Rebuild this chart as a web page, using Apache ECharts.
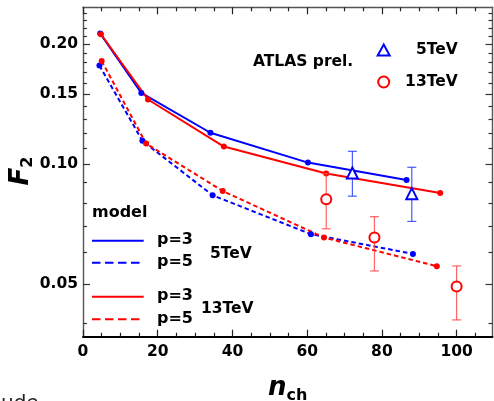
<!DOCTYPE html>
<html>
<head>
<meta charset="utf-8">
<script src="https://cdn.jsdelivr.net/npm/echarts@6/dist/echarts.min.js"></script>
<style>
  html, body { margin: 0; padding: 0; background: #fff; }
  #chart { width: 494px; height: 401px; }
</style>
</head>
<body>
<div id="chart"></div>
<script>
// Model curves: F2 versus charged multiplicity n_ch
const nch5p3  = [4.6, 15.6, 34.1, 60.2, 86.6];
const f5p3    = [0.213, 0.151, 0.120, 0.101, 0.0913];
const nch5p5  = [4.4, 15.9, 34.7, 61.0, 88.3];
const f5p5    = [0.177, 0.1145, 0.0836, 0.0668, 0.0596];
const nch13p3 = [4.8, 17.4, 37.7, 65.1, 95.6];
const f13p3   = [0.212, 0.1454, 0.1108, 0.0948, 0.0847];
const nch13p5 = [5.0, 16.9, 37.4, 64.5, 94.7];
const f13p5   = [0.1816, 0.1127, 0.0857, 0.0655, 0.0555];

// ATLAS preliminary points with error ranges
const atlas5Nch  = [72.1, 88.0];
const atlas5F2   = [0.0951, 0.0844];
const atlas5Lo   = [0.0832, 0.0719];
const atlas5Hi   = [0.1078, 0.0983];
const atlas13Nch = [65.1, 78.0, 100.0];
const atlas13F2  = [0.0817, 0.0655, 0.0494];
const atlas13Lo  = [0.0689, 0.0540, 0.0407];
const atlas13Hi  = [0.0948, 0.0739, 0.0556];

// Axis ticks
const xMajor = [0, 20, 40, 60, 80, 100];
const xMinor = [5, 10, 15, 25, 30, 35, 45, 50, 55, 65, 70, 75, 85, 90, 95, 105];
const yMajor = [0.05, 0.10, 0.15, 0.20];
const yMinor = [0.04, 0.06, 0.07, 0.08, 0.09, 0.11, 0.12, 0.13, 0.14,
                0.16, 0.17, 0.18, 0.19, 0.21, 0.22, 0.23, 0.24];

const X_MIN = 0, X_MAX = 109.6;
const Y_MIN = 0.03694, Y_MAX = 0.2477;

const BLUE = '#0000ff';
const RED = '#ff0000';
const FONT = 'DejaVu Sans';
const FRAME = '#555';

const pairs = (xs, ys) => xs.map((x, i) => [x, ys[i]]);
const ranges = (xs, lo, hi) => xs.map((x, i) => [x, lo[i], hi[i]]);

const gridBox = { left: 83, right: 1.5, top: 7.3, bottom: 64.3,
                  containLabel: false, outerBoundsMode: 'none' };

// Italic symbol with bold subscript, used for both axis titles
const titleRich = {
  m: { fontFamily: FONT, fontStyle: 'italic', fontWeight: 'bold', fontSize: 26, fill: '#000', color: '#000', lineHeight: 30 },
  s: { fontFamily: FONT, fontWeight: 'bold', fontSize: 16, fill: '#000', color: '#000', verticalAlign: 'bottom', lineHeight: 16 }
};

function xAx(grid, pos, ticks, len, lineShow, lineColor, lineWidth, labels) {
  return {
    type: 'value', gridIndex: grid, position: pos, min: X_MIN, max: X_MAX,
    axisLine: { show: lineShow, onZero: false, lineStyle: { color: lineColor, width: lineWidth } },
    axisTick: { show: true, inside: true, length: len, customValues: ticks,
                lineStyle: { color: '#222', width: 1.2 } },
    axisLabel: labels ? { show: true, customValues: xMajor, margin: 7, color: '#000',
                          fontFamily: FONT, fontWeight: 'bold', fontSize: 15.5 }
                      : { show: false },
    splitLine: { show: false }
  };
}
function yAx(grid, pos, ticks, len, lineShow, labels) {
  return {
    type: 'log', logBase: 10, gridIndex: grid, position: pos, min: Y_MIN, max: Y_MAX,
    axisLine: { show: lineShow, onZero: false, lineStyle: { color: FRAME, width: 1.4 } },
    axisTick: { show: true, inside: true, length: len, customValues: ticks,
                lineStyle: { color: '#333', width: 1.2 } },
    axisLabel: labels ? { show: true, customValues: yMajor, margin: 5, color: '#000',
                          fontFamily: FONT, fontWeight: 'bold', fontSize: 15.5,
                          formatter: v => Number(v).toFixed(2) }
                      : { show: false },
    splitLine: { show: false },
    minorTick: { show: false }
  };
}

const xAxes = [
  xAx(0, 'bottom', xMajor, 7, true, '#000', 2, true),
  xAx(0, 'top', xMajor, 7, true, FRAME, 1.4, false),
  xAx(1, 'bottom', xMinor, 4, false, '#000', 1, false),
  xAx(1, 'top', xMinor, 4, false, '#000', 1, false)
];
xAxes[0].name = '{m|n}{s|ch}';
xAxes[0].nameLocation = 'middle';
xAxes[0].nameGap = 37;
xAxes[0].nameTextStyle = { rich: titleRich };

const yAxes = [
  yAx(0, 'left', yMajor, 7, true, true),
  yAx(0, 'right', yMajor, 7, true, false),
  yAx(1, 'left', yMinor, 4, false, false),
  yAx(1, 'right', yMinor, 4, false, false)
];

function modelLine(name, xs, ys, color, dashed) {
  return {
    name, type: 'line', xAxisIndex: 0, yAxisIndex: 0,
    data: pairs(xs, ys),
    symbol: 'circle', symbolSize: 6, showSymbol: true,
    itemStyle: { color, opacity: 1 },
    lineStyle: { color, width: 2, type: dashed ? [4.5, 3] : 'solid' },
    z: 3, animation: false
  };
}

function errorBars(xs, lo, hi, color) {
  return {
    type: 'custom', xAxisIndex: 0, yAxisIndex: 0,
    data: ranges(xs, lo, hi),
    encode: { x: 0, y: [1, 2] },
    z: 4, animation: false,
    renderItem(params, api) {
      const x = api.value(0);
      const top = api.coord([x, api.value(2)]);
      const bot = api.coord([x, api.value(1)]);
      const w = 4.5;
      const st = { stroke: color, lineWidth: 1.2 };
      return {
        type: 'group',
        children: [
          { type: 'line', shape: { x1: top[0], y1: top[1], x2: bot[0], y2: bot[1] }, style: st },
          { type: 'line', shape: { x1: top[0] - w, y1: top[1], x2: top[0] + w, y2: top[1] }, style: st },
          { type: 'line', shape: { x1: bot[0] - w, y1: bot[1], x2: bot[0] + w, y2: bot[1] }, style: st }
        ]
      };
    }
  };
}

const series = [
  modelLine('5TeV p=3', nch5p3, f5p3, BLUE, false),
  modelLine('5TeV p=5', nch5p5, f5p5, BLUE, true),
  modelLine('13TeV p=3', nch13p3, f13p3, RED, false),
  modelLine('13TeV p=5', nch13p5, f13p5, RED, true),
  errorBars(atlas5Nch, atlas5Lo, atlas5Hi, 'rgba(40,60,255,0.85)'),
  errorBars(atlas13Nch, atlas13Lo, atlas13Hi, 'rgba(255,60,60,0.8)'),
  {
    name: '5TeV', type: 'scatter', xAxisIndex: 0, yAxisIndex: 0,
    data: pairs(atlas5Nch, atlas5F2),
    symbol: 'triangle', symbolSize: 11,
    itemStyle: { color: '#fff', borderColor: BLUE, borderWidth: 2, opacity: 1 },
    z: 5, animation: false
  },
  {
    name: '13TeV', type: 'scatter', xAxisIndex: 0, yAxisIndex: 0,
    data: pairs(atlas13Nch, atlas13F2),
    symbol: 'circle', symbolSize: 10,
    itemStyle: { color: '#fff', borderColor: RED, borderWidth: 2, opacity: 1 },
    z: 5, animation: false
  }
];

const txt = (text, x, y, size, extra) => ({
  type: 'text', z: 10,
  style: Object.assign({
    text, x, y, fill: '#000',
    font: 'bold ' + size + 'px "' + FONT + '"',
    align: 'left', verticalAlign: 'middle',
    textAlign: 'left', textVerticalAlign: 'middle'
  }, extra || {})
});
const seg = (x1, y, x2, color, dash) => ({
  type: 'line', z: 10,
  shape: { x1, y1: y, x2, y2: y },
  style: { stroke: color, lineWidth: 2, lineDash: dash || null }
});

const graphic = [
  // vertical axis title F2
  {
    type: 'text', z: 10, x: 21, y: 171, rotation: Math.PI / 2,
    style: { text: '{m|F}{s|2}', rich: titleRich,
             align: 'center', verticalAlign: 'middle',
             textAlign: 'center', textVerticalAlign: 'middle' }
  },
  txt('ATLAS prel.', 253, 62, 15.5),
  txt('model', 92, 213, 16),
  seg(92, 240.7, 143.7, BLUE),
  seg(92, 262.7, 143.7, BLUE, [8.5, 4.5]),
  seg(92, 296.7, 143.7, RED),
  seg(92, 319.3, 143.7, RED, [8.5, 4.5]),
  txt('p=3', 157, 239.5, 16),
  txt('p=5', 157, 262, 16),
  txt('p=3', 157, 295.5, 16),
  txt('p=5', 157, 318.5, 16),
  txt('5TeV', 210, 254, 15.5),
  txt('13TeV', 201, 309, 15.5),
  {
    type: 'text', z: 10,
    style: { text: 'ude', x: 1, y: 394, fill: '#222',
             font: '20px "' + FONT + '"', align: 'left', verticalAlign: 'top',
             textAlign: 'left', textVerticalAlign: 'top' }
  }
];

const chart = echarts.init(document.getElementById('chart'), null, { renderer: 'canvas' });
chart.setOption({
  animation: false,
  backgroundColor: '#fff',
  grid: [Object.assign({}, gridBox), Object.assign({}, gridBox)],
  xAxis: xAxes,
  yAxis: yAxes,
  legend: {
    data: ['5TeV', '13TeV'],
    orient: 'vertical',
    left: 371.7, top: 37,
    itemWidth: 12, itemHeight: 11, itemGap: 16,
    selectedMode: false,
    formatter: name => '{a|' + name + '}',
    textStyle: {
      rich: { a: { width: 63, align: 'right', fontFamily: FONT, fontWeight: 'bold', fontSize: 15.5, color: '#000' } }
    }
  },
  series,
  graphic
});
</script>
</body>
</html>
